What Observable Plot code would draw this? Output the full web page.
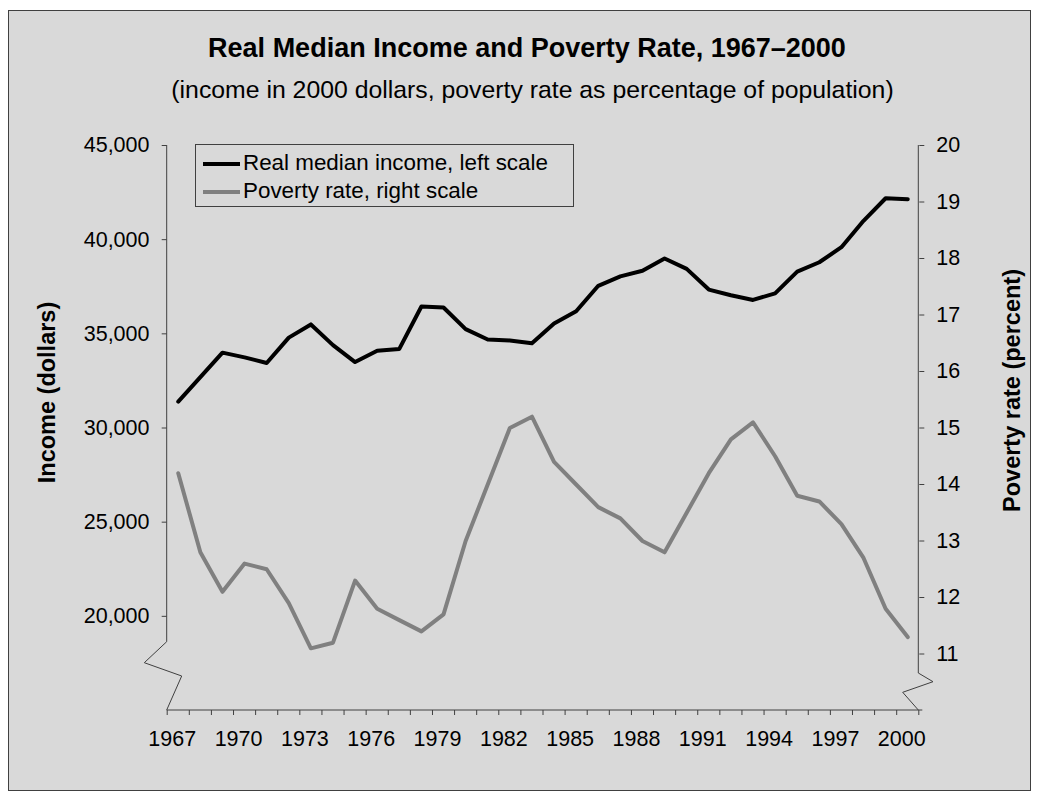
<!DOCTYPE html>
<html>
<head>
<meta charset="utf-8">
<script src="https://cdn.jsdelivr.net/npm/d3@7"></script>
<script src="https://cdn.jsdelivr.net/npm/@observablehq/plot@0.6"></script>
<style>
html, body { margin: 0; padding: 0; background: #fff; overflow: hidden; }
body { width: 1038px; height: 799px; position: relative; font-family: "Liberation Sans", Arial, sans-serif; color: #000; }
#panel { position: absolute; left: 8px; top: 10px; width: 1021px; height: 779px; background: #d9d9d9; border: 1px solid #404040; }
.t { position: absolute; left: 0; text-align: center; line-height: 1; white-space: nowrap; }
#title { width: 1054px; top: 35.2px; font-size: 27px; font-weight: bold; }
#subtitle { width: 1065px; top: 78.1px; font-size: 24.8px; }
#chart { position: absolute; left: 0; top: 120px; }
#legend { position: absolute; left: 195px; top: 144px; width: 377px; height: 61px; border: 1px solid #404040; }
#legend .sw { position: absolute; left: 7px; width: 37px; height: 4px; }
#legend .lt { position: absolute; left: 47px; font-size: 22.4px; line-height: 1; white-space: nowrap; }
</style>
</head>
<body>
<div id="panel"></div>
<div id="title" class="t"></div>
<div id="subtitle" class="t"></div>
<div id="chart"></div>
<div id="legend"></div>
<script>
// ---- data ----
const years = [1967,1968,1969,1970,1971,1972,1973,1974,1975,1976,1977,1978,1979,1980,1981,1982,1983,1984,1985,1986,1987,1988,1989,1990,1991,1992,1993,1994,1995,1996,1997,1998,1999,2000];
const income = [31400,32700,34000,33750,33450,34800,35500,34400,33500,34100,34200,36450,36400,35250,34700,34650,34500,35550,36200,37550,38050,38350,39000,38450,37350,37050,36800,37150,38300,38800,39600,41000,42200,42150];
const poverty = [14.2,12.8,12.1,12.6,12.5,11.9,11.1,11.2,12.3,11.8,11.6,11.4,11.7,13.0,14.0,15.0,15.2,14.4,14.0,13.6,13.4,13.0,12.8,13.5,14.2,14.8,15.1,14.5,13.8,13.7,13.3,12.7,11.8,11.3];
const incomeTicks = [20000,25000,30000,35000,40000,45000];
const povertyTicks = [11,12,13,14,15,16,17,18,19,20];
const yearLabels = [1967,1970,1973,1976,1979,1982,1985,1988,1991,1994,1997,2000];
const seriesNames = ["Real median income, left scale", "Poverty rate, right scale"];
const seriesColors = ["#000000", "#808080"];
const titleText = "Real Median Income and Poverty Rate, 1967\u20132000";
const subtitleText = "(income in 2000 dollars, poverty rate as percentage of population)";
const yLabelLeft = "Income (dollars)";
const yLabelRight = "Poverty rate (percent)";

// ---- scales setup ----
const incomeDomain = [15000, 45000];
const povertyDomain = [10, 20];
const toIncome = p => incomeDomain[0] + (p - povertyDomain[0]) * (incomeDomain[1] - incomeDomain[0]) / (povertyDomain[1] - povertyDomain[0]);
const fromIncome = v => Math.round((povertyDomain[0] + (v - incomeDomain[0]) * (povertyDomain[1] - povertyDomain[0]) / (incomeDomain[1] - incomeDomain[0])) * 100) / 100;
const xDomain = [years[0] - 0.5, years[years.length - 1] + 0.5];
const yearEdges = d3.range(xDomain[0], xDomain[1] + 0.01, 1);
const rows = years.map((year, i) => ({year, income: income[i], poverty: poverty[i]}));

document.getElementById("title").textContent = titleText;
document.getElementById("subtitle").textContent = subtitleText;

const axisColor = "#404040";

function axisFrame(index, {x, y}) {
  const g = d3.create("svg:g").attr("fill", "none").attr("stroke", axisColor).attr("stroke-width", 1);
  const xl = x(xDomain[0]), xr = x(xDomain[1]), yb = y(incomeDomain[0]);
  g.append("path").attr("d", `M${xl},${y(incomeDomain[1])}V${yb - 68.3}L${xl - 22.4},${yb - 47.3}L${xl + 15},${yb - 34}L${xl},${yb}`);
  g.append("path").attr("d", `M${xr},${y(toIncome(povertyDomain[1]))}V${yb - 37}L${xr + 14.7},${yb - 28.3}L${xr - 15.6},${yb - 17.7}L${xr},${yb}`);
  g.append("path").attr("d", `M${xl},${yb}H${xr + 4}`);
  return g.node();
}

const chart = Plot.plot({
  width: 1038,
  height: 660,
  marginTop: 25,
  marginBottom: 70,
  marginLeft: 166.7,
  marginRight: 119.7,
  style: {background: "transparent", fontFamily: "'Liberation Sans', Arial, sans-serif", fontSize: "21.5px", color: "#000", overflow: "visible"},
  x: {type: "linear", domain: xDomain},
  y: {domain: incomeDomain},
  marks: [
    axisFrame,
    Plot.axisY({ticks: incomeTicks, tickSize: 5, tickPadding: 12.7, tickFormat: d3.format(","), stroke: axisColor, fill: "#000", label: null}),
    Plot.axisY({anchor: "right", ticks: povertyTicks.map(toIncome), tickSize: 5, tickPadding: 12.4, tickFormat: v => String(fromIncome(v)), stroke: axisColor, fill: "#000", label: null}),
    Plot.axisX({ticks: yearEdges, tickSize: 5, tickFormat: () => "", stroke: axisColor, label: null}),
    Plot.axisX({ticks: yearLabels, tickSize: 0, tickPadding: 20, tickFormat: d => String(d), fill: "#000", dx: -6, label: null}),
    Plot.text([yLabelLeft], {frameAnchor: "left", textAnchor: "middle", lineAnchor: "middle", rotate: -90, dx: -120, dy: -35.5, fontWeight: "bold", fontSize: 23.5, fill: "#000"}),
    Plot.text([yLabelRight], {frameAnchor: "right", textAnchor: "middle", lineAnchor: "middle", rotate: -90, dx: 93.7, dy: -37.5, fontWeight: "bold", fontSize: 23.5, fill: "#000"}),
    Plot.line(rows, {x: "year", y: "income", stroke: seriesColors[0], strokeWidth: 4, strokeLinejoin: "round", strokeLinecap: "round"}),
    Plot.line(rows, {x: "year", y: d => toIncome(d.poverty), stroke: seriesColors[1], strokeWidth: 4, strokeLinejoin: "round", strokeLinecap: "round"})
  ]
});
document.getElementById("chart").appendChild(chart);

// legend
const legend = document.getElementById("legend");
const rowTops = [[17.3, 7], [44.7, 34.5]];
seriesNames.forEach((name, i) => {
  const sw = document.createElement("div");
  sw.className = "sw";
  sw.style.top = rowTops[i][0] + "px";
  sw.style.background = seriesColors[i];
  legend.appendChild(sw);
  const lt = document.createElement("div");
  lt.className = "lt";
  lt.style.top = rowTops[i][1] + "px";
  lt.textContent = name;
  legend.appendChild(lt);
});
</script>
</body>
</html>
